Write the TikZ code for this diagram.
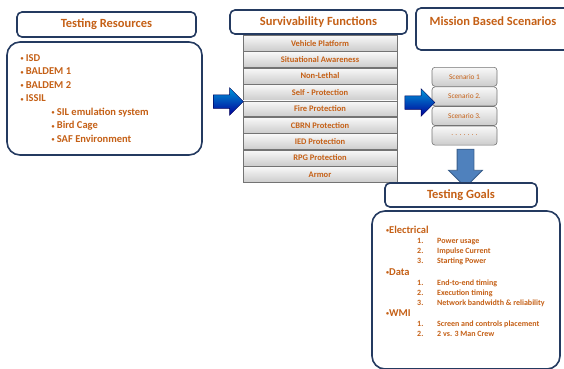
\documentclass[tikz,border=0pt]{standalone}
\usepackage{fontspec}
\setmainfont{Carlito}
\usepackage{tikz}
\usetikzlibrary{positioning}
\usetikzlibrary{shapes.arrows}
\definecolor{tgorange}{RGB}{197,96,22}
\definecolor{tgnavy}{RGB}{36,58,96}
\definecolor{tgblue}{RGB}{79,129,189}
\definecolor{tgblueline}{RGB}{56,93,138}
\newcommand{\resbullet}{\raisebox{0.8pt}{\fontsize{6}{6}\selectfont•}}
\tikzstyle{headbox} = [draw=tgnavy, line width=1.6pt, rounded corners=5pt, fill=white, text=tgorange, font=\fontsize{12.5}{14}\selectfont\bfseries]
\tikzstyle{bigbox} = [draw=tgnavy, line width=1.6pt, rounded corners=13pt, fill=white]
\tikzstyle{rowbox} = [draw=black!55, line width=0.6pt, top color=gray!5, bottom color=gray!40, text=tgorange, minimum width=154pt, minimum height=15.8pt, inner sep=0pt, font=\fontsize{8.5}{9}\selectfont\bfseries]
\tikzstyle{scenbox} = [rowbox, rounded corners=3pt, minimum width=65pt, minimum height=19pt, font=\fontsize{7.3}{8}\selectfont]
\tikzstyle{blockarrow} = [single arrow, draw=blue!35!black, line width=0.5pt, top color=blue!30!cyan!85!black, bottom color=blue!60!black, inner sep=6.5pt, minimum height=30pt, minimum width=27pt, single arrow head extend=7pt]

\begin{document}
\begin{tikzpicture}[x=1pt, y=-1pt]
\useasboundingbox (0,0) rectangle (564,368);
% testing resources
\node[headbox, minimum width=179pt, minimum height=25pt] (reshead) at (106.5,24.5) {Testing Resources};
\node[bigbox, minimum width=195pt, minimum height=113pt] (resbox) at (104.5,98.5) {};
\node[anchor=north west, align=left, text=tgorange, font=\fontsize{10.5}{13.5}\selectfont\bfseries] (reslist) at (17,51)
{\resbullet\ ISD\\ \resbullet\ BALDEM 1\\ \resbullet\ BALDEM 2\\ \resbullet\ ISSIL\\
\hspace*{31pt}\resbullet\ SIL emulation system\\ \hspace*{31pt}\resbullet\ Bird Cage\\ \hspace*{31pt}\resbullet\ SAF Environment};
% survivability functions
\node[headbox, minimum width=177pt, minimum height=24pt] (survhead) at (318.5,22) {Survivability Functions};
\node[rowbox, anchor=north] (vehicle) at (320,35) {Vehicle Platform};
\node[rowbox, below=0pt of vehicle] (aware) {Situational Awareness};
\node[rowbox, below=0pt of aware] (nonlethal) {Non-Lethal};
\node[rowbox, below=0pt of nonlethal] (selfprot) {Self - Protection};
\node[rowbox, below=0pt of selfprot] (fireprot) {Fire Protection};
\node[rowbox, below=0pt of fireprot] (cbrn) {CBRN Protection};
\node[rowbox, below=0pt of cbrn] (ied) {IED Protection};
\node[rowbox, below=0pt of ied] (rpg) {RPG Protection};
\node[rowbox, below=0pt of rpg] (armor) {Armor};
% mission based scenarios
\node[headbox, minimum width=154pt, minimum height=42pt, text depth=15pt] (misshead) at (493,29) {Mission Based Scenarios};
\node[scenbox, anchor=north] (scen1) at (464.5,67) {Scenario 1};
\node[scenbox, below=0pt of scen1] (scen2) {Scenario 2.};
\node[scenbox, below=0pt of scen2] (scen3) {Scenario 3.};
\node[scenbox, below=0pt of scen3] (scen4) {. . . . . . .};
% arrows
\node[blockarrow] (arrowone) at (225,101.5) {};
\node[blockarrow] (arrowtwo) at (416.5,102.5) {};
\node[single arrow, shape border rotate=270, draw=tgblueline, line width=0.8pt, fill=tgblue, inner sep=8pt, minimum height=38pt, minimum width=33pt, single arrow head extend=8.5pt] (arrowdown) at (465.5,164) {};
% testing goals
\node[headbox, minimum width=152pt, minimum height=24pt] (goalhead) at (461,195) {Testing Goals};
\node[bigbox, minimum width=188pt, minimum height=158pt] (goalbox) at (466,290) {};
\node[anchor=north west, text=tgorange, font=\fontsize{8}{10}\selectfont\bfseries, inner sep=0pt] (goallist) at (386,226)
{\begin{tabular}{@{}p{31pt}@{}p{20pt}@{}l@{}}
\multicolumn{3}{@{}l}{\fontsize{10.5}{12}\selectfont\resbullet Electrical}\\
& 1. & Power usage\\
& 2. & Impulse Current\\
& 3. & Starting Power\\[1.5pt]
\multicolumn{3}{@{}l}{\fontsize{10.5}{12}\selectfont\resbullet Data}\\
& 1. & End-to-end timing\\
& 2. & Execution timing\\
& 3. & Network bandwidth \& reliability\\[1.5pt]
\multicolumn{3}{@{}l}{\fontsize{10.5}{12}\selectfont\resbullet WMI}\\
& 1. & Screen and controls placement\\
& 2. & 2 vs. 3 Man Crew\\
\end{tabular}};
\end{tikzpicture}
\end{document}
